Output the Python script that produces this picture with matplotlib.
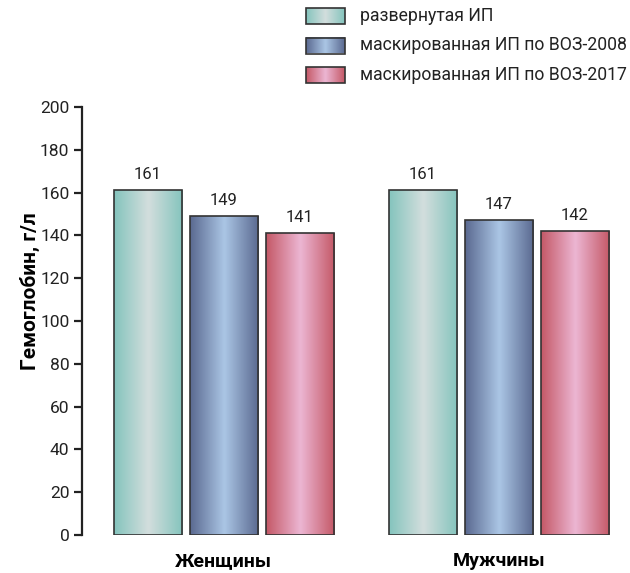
import numpy as np
import matplotlib
matplotlib.use('Agg')
import matplotlib.pyplot as plt
from matplotlib.colors import LinearSegmentedColormap

plt.rcParams['font.family'] = ['Roboto', 'DejaVu Sans']

# data
groups = ['Женщины', 'Мужчины']
series = ['развернутая ИП', 'маскированная ИП по ВОЗ-2008', 'маскированная ИП по ВОЗ-2017']
values = [
    [161, 161],
    [149, 147],
    [141, 142],
]
yticks = [0, 20, 40, 60, 80, 100, 120, 140, 160, 180, 200]

# gradient (edge, center) for each series
grads = [
    ('#84c4bd', '#d3dedd'),
    ('#5a6990', '#abc6e5'),
    ('#c45866', '#ecb6d3'),
]


def make_cmap(edge, mid):
    return LinearSegmentedColormap.from_list('g', [edge, mid, edge])


grad_img = np.linspace(0, 1, 256).reshape(1, -1)

fig = plt.figure(figsize=(6.3, 5.73), dpi=100)
ax = fig.add_axes([0.130, 0.0663, 0.854, 0.747])

width = 0.2473
step = 0.2764
x = np.arange(len(groups))

for i, vals in enumerate(values):
    cmap = make_cmap(*grads[i])
    pos = x + (i - 1) * step
    bars = ax.bar(pos, vals, width, facecolor='none', edgecolor='#333333', linewidth=1.2, zorder=3)
    for b, v in zip(bars, vals):
        x0, y0 = b.get_x(), b.get_y()
        w, h = b.get_width(), b.get_height()
        im = ax.imshow(grad_img, cmap=cmap, aspect='auto', extent=(x0, x0 + w, y0, y0 + h),
                       interpolation='bicubic', zorder=2)
        im.set_clip_path(b)
        ax.text(x0 + w / 2, v + 4, str(v), ha='center', va='bottom', fontsize=12, color='#222222')

ax.set_xlim(-0.516, 1.44)
ax.set_ylim(0, 200)
ax.set_yticks(yticks)
ax.tick_params(axis='y', labelsize=12.5, length=6, width=1.6, colors='#222222', pad=3)
ax.set_xticks(x)
ax.set_xticklabels(groups, fontsize=14, fontweight='bold')
ax.tick_params(axis='x', length=0, pad=12)
for s in ['top', 'right', 'bottom']:
    ax.spines[s].set_visible(False)
ax.spines['left'].set_linewidth(1.6)
ax.spines['left'].set_color('#222222')
ax.set_ylabel('Гемоглобин, г/л', fontsize=15, fontweight='bold', va='center')
ax.yaxis.set_label_coords(-0.097, 0.57)

# legend with gradient boxes
lax = fig.add_axes([0, 0, 1, 1], zorder=5)
lax.set_xlim(0, 630)
lax.set_ylim(573, 0)
lax.axis('off')
for i, name in enumerate(series):
    cmap = make_cmap(*grads[i])
    top = 8 + i * 29.5
    lax.imshow(grad_img, cmap=cmap, aspect='auto', extent=(306, 345, top + 16, top),
               interpolation='bicubic')
    lax.add_patch(plt.Rectangle((306, top), 39, 16, facecolor='none', edgecolor='#333333', linewidth=1.2))
    lax.text(360, top + 8, name, va='center', ha='left', fontsize=12.7, color='#222222')

fig.savefig('out.png', dpi=100)
